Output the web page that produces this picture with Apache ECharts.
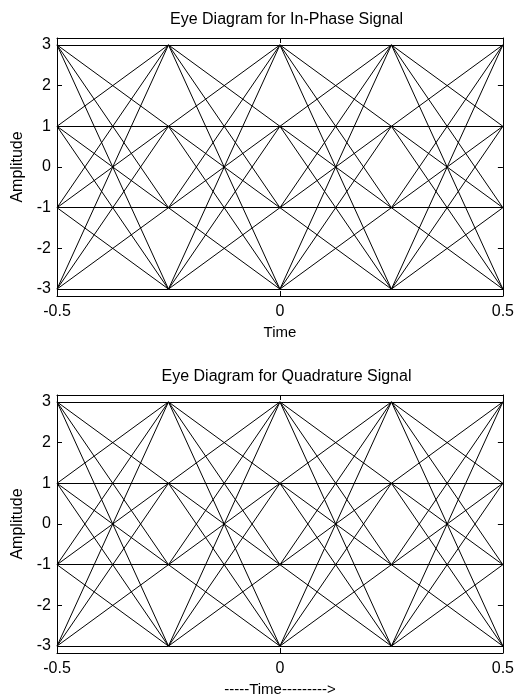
<!DOCTYPE html>
<html>
<head>
<meta charset="utf-8">
<script src="https://cdn.jsdelivr.net/npm/echarts@6/dist/echarts.min.js"></script>
<style>
html,body{margin:0;padding:0;background:#fff;}
#chart{width:517px;height:700px;}
</style>
</head>
<body>
<div id="chart"></div>
<script>
// ---- data ----
const timeTicks = [-0.5, 0, 0.5];
const ampTicks = [-3, -2, -1, 0, 1, 2, 3];
const sampleTimes = [-0.5, -0.25, 0, 0.25, 0.5];
const levelsInPhase = [-3, -1, 1, 3];
const levelsQuadrature = [-3, -1, 1, 3];
const titles = ['Eye Diagram for In-Phase Signal', 'Eye Diagram for Quadrature Signal'];
const xNames = ['Time', '-----Time--------->'];
const yName = 'Amplitude';

// every symbol-to-symbol transition between adjacent sampling instants
function buildTransitions(levels) {
  const segs = [];
  for (let k = 0; k < sampleTimes.length - 1; k++) {
    for (const a of levels) {
      for (const b of levels) {
        segs.push({coords: [[sampleTimes[k], a], [sampleTimes[k + 1], b]]});
      }
    }
  }
  return segs;
}

const FONT = 'Liberation Sans, Arial, Helvetica, sans-serif';
const grids = [
  {left: 57, top: 38, width: 449, height: 258},
  {left: 57, top: 395, width: 449, height: 258}
];
const Y_LIM = 3.17;

const xAxes = [], yAxes = [], series = [], titleArr = [];
grids.forEach((g, i) => {
  titleArr.push({
    text: titles[i], left: g.left + g.width / 2, top: g.top - 31, textAlign: 'center',
    textStyle: {fontFamily: FONT, fontSize: 16, fontWeight: 'normal', color: '#000'}
  });
  const common = {
    gridIndex: i, type: 'value', min: -0.5, max: 0.5, interval: 0.5,
    axisLine: {show: true, onZero: false, lineStyle: {color: '#000', width: 1}},
    splitLine: {show: false}
  };
  xAxes.push(Object.assign({}, common, {
    position: 'bottom',
    name: xNames[i], nameLocation: 'middle', nameGap: 29,
    nameTextStyle: {fontFamily: FONT, fontSize: 15, color: '#000'},
    axisLabel: {show: true, margin: 8, fontFamily: FONT, fontSize: 16, color: '#000',
      customValues: timeTicks, formatter: v => String(v)},
    axisTick: {show: true, inside: true, length: 5, customValues: timeTicks, lineStyle: {color: '#000'}}
  }));
  xAxes.push(Object.assign({}, common, {
    position: 'top', axisLabel: {show: false},
    axisTick: {show: true, inside: true, length: 5, customValues: timeTicks, lineStyle: {color: '#000'}}
  }));
  const ycommon = {
    gridIndex: i, type: 'value', min: -Y_LIM, max: Y_LIM,
    axisLine: {show: true, onZero: false, lineStyle: {color: '#000', width: 1}},
    splitLine: {show: false}
  };
  yAxes.push(Object.assign({}, ycommon, {
    position: 'left',
    name: yName, nameLocation: 'middle', nameGap: 31, nameRotate: 90,
    nameTextStyle: {fontFamily: FONT, fontSize: 16, color: '#000'},
    axisLabel: {show: true, margin: 6, fontFamily: FONT, fontSize: 16, color: '#000',
      customValues: ampTicks, formatter: v => String(v)},
    axisTick: {show: true, inside: true, length: 5, customValues: ampTicks, lineStyle: {color: '#000'}}
  }));
  yAxes.push(Object.assign({}, ycommon, {
    position: 'right', axisLabel: {show: false},
    axisTick: {show: true, inside: true, length: 5, customValues: ampTicks, lineStyle: {color: '#000'}}
  }));
  series.push({
    type: 'lines', coordinateSystem: 'cartesian2d',
    xAxisIndex: i * 2, yAxisIndex: i * 2,
    polyline: false, silent: true,
    lineStyle: {color: '#000', width: 1, opacity: 1},
    data: buildTransitions(i === 0 ? levelsInPhase : levelsQuadrature)
  });
});

const chart = echarts.init(document.getElementById('chart'), null, {renderer: 'canvas'});
chart.setOption({
  animation: false,
  backgroundColor: '#fff',
  title: titleArr,
  grid: grids,
  xAxis: xAxes,
  yAxis: yAxes,
  series: series
});
</script>
</body>
</html>
